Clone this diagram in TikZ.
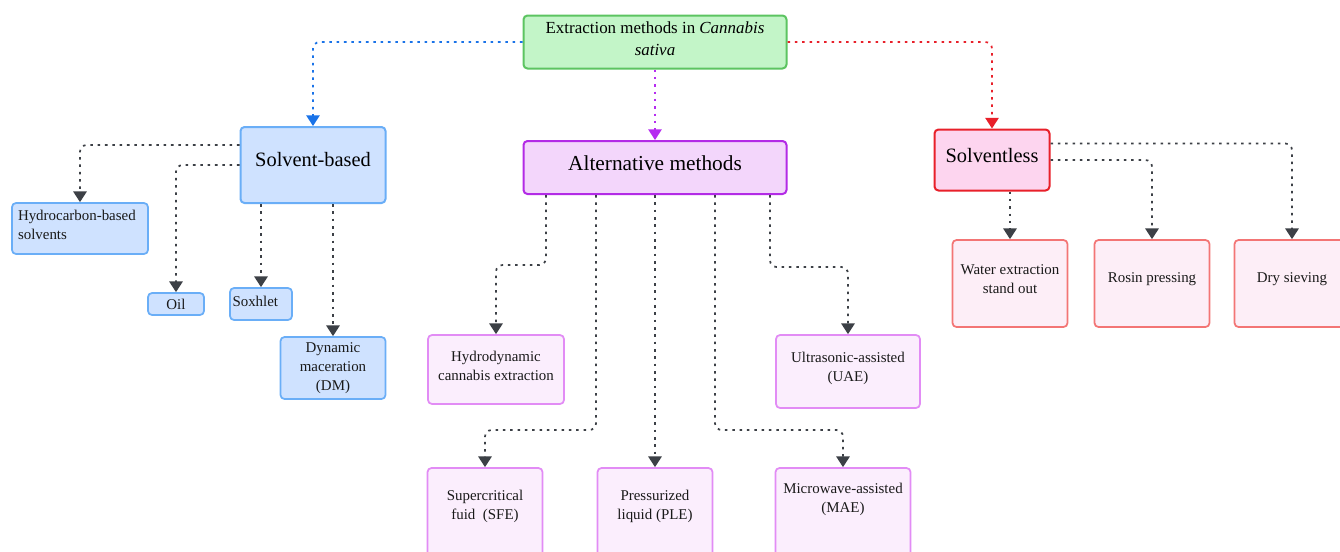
\documentclass[tikz,border=0pt]{standalone}
\usepackage{fontspec}
\setmainfont{Liberation Serif}
\usetikzlibrary{arrows.meta}
\definecolor{rootF}{HTML}{C3F5C8}
\definecolor{rootD}{HTML}{5CC461}
\definecolor{sbF}{HTML}{CFE2FF}
\definecolor{sbD}{HTML}{6AAEF7}
\definecolor{altF}{HTML}{F3D6FB}
\definecolor{altD}{HTML}{B32BE6}
\definecolor{pkF}{HTML}{FBEEFD}
\definecolor{pkD}{HTML}{E28CF5}
\definecolor{slF}{HTML}{FDD5EF}
\definecolor{slD}{HTML}{E8202A}
\definecolor{rdF}{HTML}{FDEEF7}
\definecolor{rdD}{HTML}{F37575}
\definecolor{edge}{HTML}{3C4046}
\definecolor{blueE}{HTML}{1A73E8}
\definecolor{purpE}{HTML}{B62CF0}
\definecolor{redE}{HTML}{E8202A}
\begin{document}
\begin{tikzpicture}[x=0.75pt,y=-0.75pt,
  box/.style 2 args={draw, rounded corners=3pt, line width=1.5pt, minimum width=#1*0.75pt, minimum height=#2*0.75pt, inner sep=0pt},
  lbl/.style={font=\fontsize{11.2}{14.2}\selectfont, align=center, inner sep=0pt, text=black!90},
  big/.style={font=\fontsize{15.3}{17}\selectfont, align=center, inner sep=0pt},
  e/.style={draw=edge, line width=1.3pt, dash pattern=on 1.9pt off 3.6pt, rounded corners=5pt, -{Triangle[width=10pt,length=8pt]}},
  sbbox/.style={fill=sbF, draw=sbD},
  pkbox/.style={fill=pkF, draw=pkD},
  rdbox/.style={fill=rdF, draw=rdD}]
\useasboundingbox (0,0) rectangle (1340,551);
\clip (0,0) rectangle (1340,551);
\fill[white] (0,0) rectangle (1340,551);
% main nodes
\node[box={263}{53}, fill=rootF, draw=rootD, label={[font=\fontsize{12.7}{16.5}\selectfont, align=center, inner sep=0pt, yshift=2.3pt]center:{Extraction methods in \textit{Cannabis}\\\textit{sativa}}}] (root) at (655,42) {};
\node[box={145}{76}, sbbox, label={[big, yshift=4pt]center:{Solvent-based}}] (sb) at (313,165) {};
\node[box={263}{53}, fill=altF, draw=altD, label={[big, font=\fontsize{16}{17}\selectfont, yshift=3pt]center:{Alternative methods}}] (alt) at (655,167.5) {};
\node[box={115}{61}, fill=slF, draw=slD, label={[big, yshift=3pt]center:{Solventless}}] (sl) at (992,160) {};
% solvent-based children
\node[box={136}{51}, sbbox, line width=1.3pt, label={[lbl, align=left, text width=124*0.75pt, yshift=3pt]center:{Hydrocarbon-based\\solvents}}] (hc) at (80,228.5) {};
\node[box={56}{22}, sbbox, line width=1.3pt, label={[lbl]center:{Oil}}] (oil) at (176,304) {};
\node[box={62}{32}, sbbox, line width=1.3pt, label={[lbl, align=left, text width=57*0.75pt, yshift=2pt]center:{Soxhlet}}] (sox) at (261,304) {};
\node[box={105}{62}, sbbox, line width=1.3pt, label={[lbl]center:{Dynamic\\maceration\\(DM)}}] (dm) at (333,368) {};
% alternative children
\node[box={136}{69}, pkbox, line width=1.3pt, label={[lbl, yshift=3pt]center:{Hydrodynamic\\cannabis extraction}}] (hy) at (496,369.5) {};
\node[box={144}{73}, pkbox, line width=1.3pt, label={[lbl, yshift=2pt]center:{Ultrasonic-assisted\\(UAE)}}] (uae) at (848,371.5) {};
\node[box={115}{90}, pkbox, line width=1.3pt, label={[lbl, yshift=5pt]center:{Supercritical\\fuid\ \ (SFE)}}] (sfe) at (485,513) {};
\node[box={115}{90}, pkbox, line width=1.3pt, label={[lbl, yshift=5pt]center:{Pressurized\\liquid (PLE)}}] (ple) at (655,513) {};
\node[box={135}{90}, pkbox, line width=1.3pt, label={[lbl, yshift=10.5pt]center:{Microwave-assisted\\(MAE)}}] (mae) at (843,513) {};
% solventless children
\node[box={115}{87}, rdbox, line width=1.3pt, label={[lbl, yshift=3pt]center:{Water extraction\\stand out}}] (wa) at (1010,283.5) {};
\node[box={115}{87}, rdbox, line width=1.3pt, label={[lbl, yshift=3pt]center:{Rosin pressing}}] (ro) at (1152,283.5) {};
\node[box={115}{87}, rdbox, line width=1.3pt, label={[lbl, yshift=3pt]center:{Dry sieving}}] (dr) at (1292,283.5) {};
% helper coordinates
\path (alt.south west) ++(23.5,0) coordinate (a1);
\path (alt.south west) ++(73.5,0) coordinate (a2);
\path (alt.south west) ++(192.5,0) coordinate (a4);
\path (alt.south west) ++(247.5,0) coordinate (a5);
\coordinate (h1) at (0,265);
\coordinate (h2) at (0,430);
\coordinate (h5) at (0,267);
% top edges
\draw[e, draw=blueE] (root.west) -| (sb.north);
\draw[e, draw=purpE] (root.south) -- (alt.north);
\draw[e, draw=redE] (root.east) -| (sl.north);
% solvent-based edges
\draw[e] ([yshift=-19*0.75pt]sb.north west) -| (hc.north);
\draw[e] (sb.west) -| (oil.north);
\draw[e] (sox.north |- sb.south) -- (sox.north);
\draw[e] (dm.north |- sb.south) -- (dm.north);
% alternative edges
\draw[e] (a1) -- (a1 |- h1) -| (hy.north);
\draw[e] (a2) -- (a2 |- h2) -| (sfe.north);
\draw[e] (ple.north |- alt.south) -- (ple.north);
\draw[e] (a4) -- (a4 |- h2) -| (mae.north);
\draw[e] (a5) -- (a5 |- h5) -| (uae.north);
% solventless edges
\draw[e] (wa.north |- sl.south) -- (wa.north);
\draw[e] (sl.east) -| (ro.north);
\draw[e] ([yshift=-15*0.75pt]sl.north east) -| (dr.north);
\end{tikzpicture}
\end{document}
